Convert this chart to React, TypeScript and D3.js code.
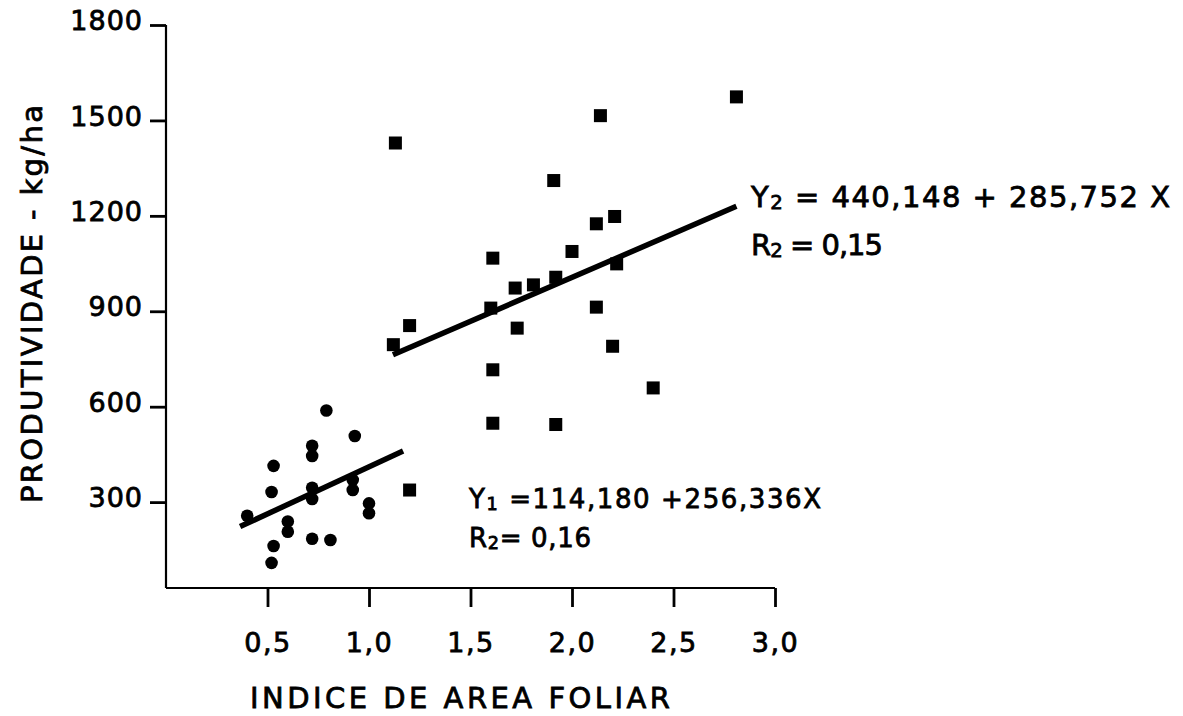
import React, { useEffect, useRef } from "react";
import * as d3 from "d3";

// circles: first group
const group1X = [0.79, 0.93, 0.72, 0.72, 0.53, 0.52, 0.72, 0.72, 0.92, 0.92, 1.0, 1.0, 0.4, 0.6, 0.6, 0.72, 0.81, 0.53, 0.52];
const group1Y = [588, 508, 477, 445, 414, 332, 345, 310, 370, 338, 296, 265, 257, 239, 207, 185, 181, 162, 109];
// squares: second group
const group2X = [1.13, 2.14, 2.81, 1.91, 2.21, 2.12, 1.61, 2.0, 1.92, 1.81, 1.72, 2.22, 1.6, 1.2, 1.12, 1.73, 2.12, 2.2, 1.61, 2.4, 1.61, 1.92, 1.2];
const group2Y = [1429, 1515, 1574, 1311, 1198, 1175, 1067, 1088, 1007, 983, 973, 1049, 910, 855, 795, 847, 913, 790, 716, 659, 548, 544, 338];
// fitted lines (ends as drawn)
const fit1X = [0.365, 1.168];
const fit1Y = [223, 461];
const fit2X = [1.118, 2.81];
const fit2Y = [763, 1230];

const xTicks = [0.5, 1.0, 1.5, 2.0, 2.5, 3.0];
const yTicks = [300, 600, 900, 1200, 1500, 1800];

const FONT = "'DejaVu Sans', sans-serif";

function App() {
  const svgRef = useRef<SVGSVGElement>(null);

  useEffect(() => {
    const svg = d3.select(svgRef.current);
    svg.selectAll("*").remove();

    const x = d3.scaleLinear().domain([0, 3]).range([166, 775]);
    const y = d3.scaleLinear().domain([30, 1800]).range([588, 25]);
    const base = y.range()[0];
    const left = x.range()[0];

    const comma = (v: number) => d3.format(".1f")(v).replace(".", ",");

    // heavier text like the printed original
    const ink = (sel: any, size: number) => sel
      .style("font-family", FONT).style("font-size", `${size}px`)
      .attr("fill", "#000").attr("stroke", "#000").attr("stroke-width", 0.8);

    // x axis
    const gx = svg.append("g")
      .attr("transform", `translate(0,${base})`)
      .call(d3.axisBottom(x).tickValues(xTicks).tickSize(19).tickSizeOuter(0).tickFormat(comma as any));
    gx.select(".domain").attr("stroke-width", 2.2).attr("d", `M${left},0H${x(3)}`);
    gx.selectAll(".tick line").attr("stroke-width", 2.8);
    ink(gx.selectAll(".tick text").attr("y", 64).attr("dy", 0).attr("letter-spacing", 1.5), 27);

    // y axis
    const gy = svg.append("g")
      .attr("transform", `translate(${left},0)`)
      .call(d3.axisLeft(y).tickValues(yTicks).tickSize(16).tickSizeOuter(0).tickFormat(d3.format("d") as any));
    gy.select(".domain").attr("stroke-width", 2.2).attr("d", `M0,${base}V${y(1800)}`);
    gy.selectAll(".tick line").attr("stroke-width", 2.8);
    ink(gy.selectAll(".tick text").attr("x", -23).attr("dy", "0.17em").attr("letter-spacing", 1), 27);

    // fitted lines
    const drawFit = (xs: number[], ys: number[]) => {
      const pts = xs.map((v, i) => [x(v), y(ys[i])] as [number, number]);
      svg.append("path")
        .attr("d", d3.line()(pts))
        .attr("stroke", "#000").attr("stroke-width", 5.5).attr("fill", "none");
    };
    drawFit(fit1X, fit1Y);
    drawFit(fit2X, fit2Y);

    // points
    svg.append("g").selectAll("circle")
      .data(group1X)
      .enter().append("circle")
      .attr("cx", d => x(d))
      .attr("cy", (d, i) => y(group1Y[i]))
      .attr("r", 6.3)
      .attr("fill", "#000");

    const s = 13;
    svg.append("g").selectAll("rect")
      .data(group2X)
      .enter().append("rect")
      .attr("x", d => x(d) - s / 2)
      .attr("y", (d, i) => y(group2Y[i]) - s / 2)
      .attr("width", s).attr("height", s)
      .attr("fill", "#000");

    // equations
    const eq = (tx: number, ty: number, size: number, sub: string, rest: string, len: number, letter = "Y") => {
      const t = ink(svg.append("text")
        .attr("x", tx).attr("y", ty)
        .attr("textLength", len).attr("lengthAdjust", "spacing"), size);
      t.append("tspan").text(letter);
      t.append("tspan").attr("dy", 2).style("font-size", `${size * 0.68}px`).text(sub);
      t.append("tspan").attr("dy", -2).text(rest);
    };
    eq(751, 207, 29, "2", " = 440,148 + 285,752 X", 419);
    eq(751, 255, 29, "2", " = 0,15", 132, "R");
    eq(469, 508, 26, "1", " =114,180 +256,336X", 352);
    eq(469, 547, 26, "2", "= 0,16", 122, "R");

    // axis titles
    ink(svg.append("text")
      .attr("x", 250).attr("y", 708)
      .attr("textLength", 420).attr("lengthAdjust", "spacing"), 29)
      .text("INDICE DE AREA FOLIAR");

    ink(svg.append("text")
      .attr("transform", "translate(42,503) rotate(-90)")
      .attr("textLength", 398).attr("lengthAdjust", "spacing"), 29)
      .text("PRODUTIVIDADE - kg/ha");
  }, []);

  return (
    <div style={{ position: "absolute", left: 0, top: 0 }}>
      <svg ref={svgRef} width={1183} height={716} style={{ background: "#fff", display: "block" }}></svg>
    </div>
  );
}

export default App;
